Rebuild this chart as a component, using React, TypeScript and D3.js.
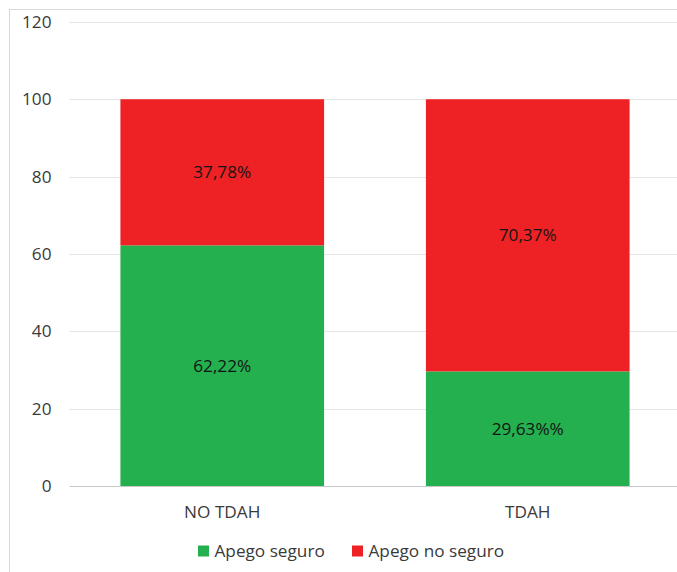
import React from "react";
import * as d3 from "d3";

const categories = ["NO TDAH", "TDAH"];
const seriesNames = ["Apego seguro", "Apego no seguro"];
const seguro = [62.22, 29.63];
const noSeguro = [37.78, 70.37];
const seguroLabels = ["62,22%", "29,63%%"];
const noSeguroLabels = ["37,78%", "70,37%"];
const yTicks = [0, 20, 40, 60, 80, 100, 120];
const colors = ["#24B04F", "#EE2224"];

const W = 677;
const H = 572;
const FONT = "'Open Sans', sans-serif";
const FS = 17.2;

export default function App() {
  const x = d3.scaleBand<string>().domain(categories).range([69.5, 680.5]).paddingInner(1 / 3).paddingOuter(1 / 6);
  const y = d3.scaleLinear().domain([0, 120]).range([486, 21.9]);

  const rows = categories.map((c, i) => ({ cat: c, seguro: seguro[i], noSeguro: noSeguro[i] }));
  const stack = d3.stack<any>().keys(["seguro", "noSeguro"])(rows);
  const labels = [seguroLabels, noSeguroLabels];

  return (
    <svg width={W} height={H} style={{ position: "absolute", left: 0, top: 0, background: "#fff" }}>
      <rect x={9.5} y={9.5} width={W + 20} height={H + 20} fill="#fff" stroke="#d9d9d9" />
      {yTicks.map((t) => (
        <g key={t}>
          {t > 0 && <line x1={69.5} x2={680} y1={Math.round(y(t)) + 0.5} y2={Math.round(y(t)) + 0.5} stroke="#e6e6e6" strokeWidth={1} />}
          <text x={51.5} y={y(t)} dy="0.35em" textAnchor="end" fontFamily={FONT} fontSize={FS} fill="#3a3a3a">
            {t}
          </text>
        </g>
      ))}
      {stack.map((s, si) => (
        <g key={si}>
          {s.map((d, i) => (
            <rect key={i} x={x(categories[i])} y={y(d[1])} width={x.bandwidth()} height={y(d[0]) - y(d[1])} fill={colors[si]} />
          ))}
        </g>
      ))}
      {stack.map((s, si) =>
        s.map((d, i) => (
          <text key={`l${si}-${i}`} x={(x(categories[i]) as number) + x.bandwidth() / 2} y={y((d[0] + d[1]) / 2)} dy="0.35em" textAnchor="middle" fontFamily={FONT} fontSize={FS} fill="#141414">
            {labels[si][i]}
          </text>
        ))
      )}
      <line x1={69.5} x2={680} y1={486.5} y2={486.5} stroke="#c8c8c8" strokeWidth={1.2} />
      {categories.map((c) => (
        <text key={c} x={(x(c) as number) + x.bandwidth() / 2} y={512} dy="0.35em" textAnchor="middle" fontFamily={FONT} fontSize={FS} fill="#3a3a3a">
          {c}
        </text>
      ))}
      {seriesNames.map((n, i) => {
        const lx = [198, 352][i];
        return (
          <g key={n}>
            <rect x={lx} y={545.5} width={11} height={11} fill={colors[i]} />
            <text x={lx + 16.5} y={551} dy="0.35em" fontFamily={FONT} fontSize={FS} fill="#3a3a3a">
              {n}
            </text>
          </g>
        );
      })}
    </svg>
  );
}
